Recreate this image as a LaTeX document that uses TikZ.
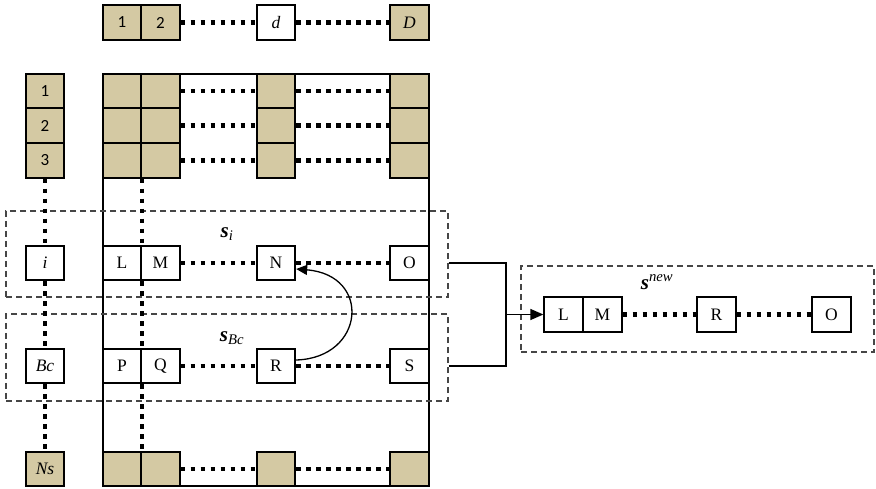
\documentclass[tikz,border=0pt]{standalone}
\usepackage{fontspec}
\setmainfont{Liberation Serif}
\newfontfamily\digitfont{Carlito}
\usetikzlibrary{arrows.meta}
\definecolor{tan}{RGB}{212,201,163}
\definecolor{dashgray}{RGB}{70,70,70}
\tikzset{
  cell/.style={draw, line width=1.8pt, minimum width=38.5pt, minimum height=34.5pt, inner sep=0pt, font=\fontsize{17.5}{19}\selectfont},
  tancell/.style={cell, fill=tan},
  wcell/.style={cell, fill=white},
  dig/.style={font=\digitfont\fontsize{17}{19}\selectfont},
  dots/.style={line width=4.5pt, dash pattern=on 4.5pt off 5.5pt},
  frame/.style={draw, line width=1.8pt, inner sep=0pt},
  group/.style={draw=dashgray, line width=1.3pt, dash pattern=on 6pt off 4pt, inner sep=0pt},
  conn/.style={line width=1.8pt},
  lab/.style={font=\fontsize{21}{23}\selectfont}
}
\begin{document}
\begin{tikzpicture}[x=1pt,y=-1pt]
\useasboundingbox (0,0) rectangle (876,489);
% big frame
\node[frame, minimum width=326pt, minimum height=412pt] (frame) at (266,280) {};
% group boxes
\node[group, minimum width=442pt, minimum height=86pt] (si) at (227,254) {};
\node[group, minimum width=442pt, minimum height=87pt] (sBc) at (227,357.5) {};
\node[group, minimum width=353pt, minimum height=86pt] (snew) at (697.5,309) {};
% labels
\node[lab] (lsi) at (227,234) {\textbf{\textit{s}}\textsubscript{\textit{i}}};
\node[lab] (lsbc) at (232,338) {\textbf{\textit{s}}\textsubscript{\textit{Bc}}};
\node[lab] (lsnew) at (657,282) {\textbf{\textit{s}}\textsuperscript{\textit{new}}};
% top row
\node[tancell, dig] (t1) at (122,22.5) {1};
\node[tancell, dig] (t2) at (160.5,22.5) {2};
\node[wcell] (td) at (276,22.5) {\textit{d}};
\node[tancell] (tD) at (409.5,22.5) {\textit{D}};
% left column
\node[tancell, dig] (l1) at (45,91) {1};
\node[tancell, dig] (l2) at (45,125.5) {2};
\node[tancell, dig] (l3) at (45,160.5) {3};
\node[wcell] (li) at (45,263) {\textit{i}};
\node[wcell] (lbc) at (45,366) {\textit{Bc}};
\node[tancell] (lns) at (45,469) {\textit{Ns}};
% grid rows
\foreach \r/\y in {a/91,b/125.5,c/160.5} {
  \node[tancell] (\r1) at (122,\y) {};
  \node[tancell] (\r2) at (160.5,\y) {};
  \node[tancell] (\r3) at (276,\y) {};
  \node[tancell] (\r4) at (409.5,\y) {};
}
\node[wcell] (L) at (122,263) {L};
\node[wcell] (M) at (160.5,263) {M};
\node[wcell] (N) at (276,263) {N};
\node[wcell] (O) at (409.5,263) {O};
\node[wcell] (P) at (122,366) {P};
\node[wcell] (Q) at (160.5,366) {Q};
\node[wcell] (R) at (276,366) {R};
\node[wcell] (S) at (409.5,366) {S};
\node[tancell] (z1) at (122,469) {};
\node[tancell] (z2) at (160.5,469) {};
\node[tancell] (z3) at (276,469) {};
\node[tancell] (z4) at (409.5,469) {};
% vertical dotted in grid
\draw[dots] (c1.south east) -- (L.north east);
\draw[dots] (L.south east) -- (P.north east);
\draw[dots] (P.south east) -- (z1.north east);
% dotted horizontal
\draw[dots] (t2.east) -- (td.west);
\draw[dots] (td.east) -- (tD.west);
\foreach \r in {a,b,c,z} {
  \draw[dots] (\r2.east) -- (\r3.west);
  \draw[dots] (\r3.east) -- (\r4.west);
}
\draw[dots] (M.east) -- (N.west);
\draw[dots] (N.east) -- (O.west);
\draw[dots] (Q.east) -- (R.west);
\draw[dots] (R.east) -- (S.west);
% left dotted vertical
\draw[dots] (l3.south) -- (li.north);
\draw[dots] (li.south) -- (lbc.north);
\draw[dots] (lbc.south) -- (lns.north);
% curved arrow
\draw[line width=1.3pt, -{Triangle[length=11pt,width=10pt]}] ([yshift=6pt]R.east) .. controls (365,358) and (372,275) .. ([yshift=-6pt]N.east);
% new sequence
\node[wcell] (nL) at (563.5,314.5) {L};
\node[wcell] (nM) at (602.5,314.5) {M};
\node[wcell] (nR) at (716.5,314.5) {R};
\node[wcell] (nO) at (831.5,314.5) {O};
\draw[dots] (nM.east) -- (nR.west);
\draw[dots] (nR.east) -- (nO.west);
% connector
\coordinate (jt) at (506,263);
\draw[conn] (si.east |- O.east) -- (jt) -- (jt |- S.east) -- (sBc.east |- S.east);
\draw[line width=1.3pt, -{Triangle[length=13pt,width=11pt]}] (jt |- nL.west) -- (nL.west);
\end{tikzpicture}
\end{document}
